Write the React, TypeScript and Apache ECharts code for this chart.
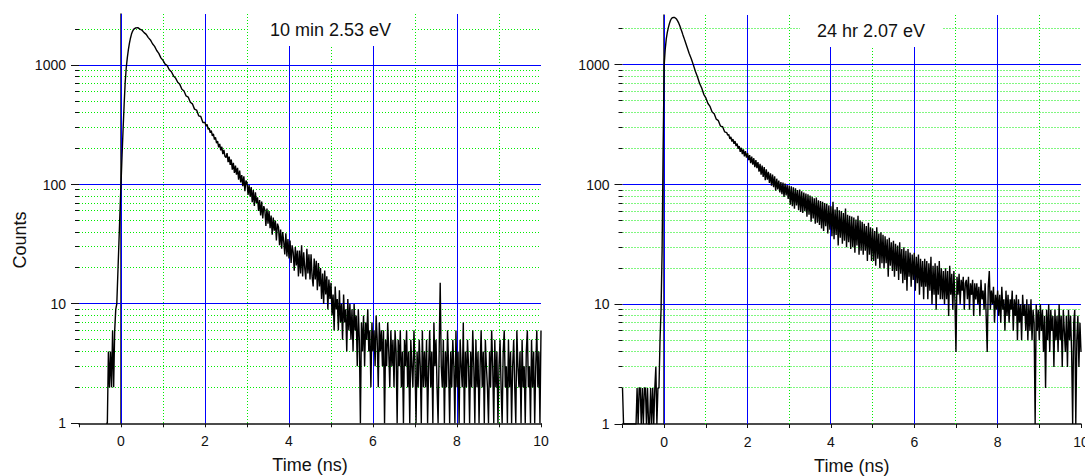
import React, { useEffect, useRef } from "react";
import * as echarts from "echarts";

// ---------------- data (counts per channel) ----------------
// Left panel: "10 min 2.53 eV"
const L_RISE = [
  1, 1, 4, 2, 4, 2, 6, 2, 6, 9, 10, 18, 32, 58, 100, 175, 290, 470, 720, 950,
  1150, 1340, 1520, 1680, 1820, 1920, 1990,
]; // -0.350 .. 0.300, every 0.025 ns
const L_PEAK = [2050, 2060, 2000, 1960, 1870, 1810, 1700, 1625, 1510, 1435, 1325, 1255, 1150, 1095, 1020]; // 0.35 .. 1.05, every 0.05 ns
const L_EARLY = [990, 915, 880, 812, 778, 718, 690, 628, 606, 552, 540, 489, 474, 428, 420, 376, 371, 331]; // 1.10 .. 1.95, every 0.05 ns
const L_TAIL = [
  331, 309, 318, 290, 296, 271, 283, 255, 266, 238,
  248, 222, 231, 205, 219, 193, 207, 180, 195, 172,
  168, 183, 154, 171, 146, 162, 133, 152, 125, 144,
  121, 138, 110, 131, 104, 120, 97, 117, 88, 108,
  104, 82, 99, 79, 95, 71, 90, 66, 86, 70,
  78, 60, 74, 55, 72, 52, 66, 61, 45, 63,
  47, 60, 43, 55, 38, 53, 41, 50, 34, 47,
  44, 31, 42, 29, 40, 33, 26, 39, 25, 35,
  24, 34, 22, 31, 27, 19, 30, 21, 28, 17,
  28, 18, 31, 17, 27, 20, 16, 29, 18, 26,
  16, 26, 17, 14, 24, 16, 23, 13, 22, 14,
  20, 11, 18, 10, 19, 12, 17, 9, 16, 11,
  15, 8, 12, 6, 14, 9, 11, 6, 13, 7,
  10, 5, 12, 7, 9, 4, 11, 6, 10, 5,
  9, 4, 10, 6, 8, 3, 9, 5, 1, 7,
  4, 8, 3, 7, 5, 9, 4, 6, 2, 7,
  4, 6, 3, 8, 5, 2, 7, 4, 6, 3,
  6, 1, 5, 3, 7, 4, 2, 6, 3, 5,
  2, 6, 4, 1, 5, 3, 6, 2, 4, 1,
  5, 3, 6, 2, 4, 1, 5, 3, 2, 6,
  3, 1, 4, 2, 5, 3, 1, 6, 2, 4,
  2, 5, 1, 3, 6, 2, 4, 1, 7, 3,
  5, 2, 1, 4, 15, 3, 2, 5, 1, 4,
  2, 6, 3, 1, 4, 2, 5, 3, 1, 6,
  2, 4, 1, 5, 3, 2, 7, 1, 4, 2,
  5, 3, 1, 4, 2, 6, 3, 1, 5, 2,
  4, 1, 3, 6, 2, 4, 1, 5, 3, 2,
  1, 4, 2, 6, 3, 1, 5, 2, 4, 1,
  3, 5, 2, 1, 4, 6, 2, 3, 1, 5,
  2, 4, 1, 3, 5, 2, 1, 6, 3, 2,
  4, 1, 5, 2, 3, 1, 4, 6, 2, 3,
  1, 5, 2, 4, 1, 3, 6, 2, 4, 1,
  6,
]; // 2.000 .. 10.000, every 0.025 ns

// Right panel: "24 hr 2.07 eV"
const R_PRE = [
  2, 1, 1, 1, 1, 1, 1, 1, 1, 1, 1, 1, 1, 1,
  2, 1, 2, 2, 1, 2, 1, 2, 2, 1, 2, 1, 1, 2, 1, 2, 1, 2, 3, 1, 2, 2, 5, 9, 28,
]; // -1.000 .. -0.050, every 0.025 ns
const R_RISE = [
  200, 1000, 1350, 1650, 1870, 2050, 2210, 2350, 2440, 2480, 2495, 2490, 2450, 2400, 2320, 2230, 2120,
  2000, 1890, 1780, 1680,
]; // -0.025 .. 0.475, every 0.025 ns
const R_EARLY = [1580, 1405, 1245, 1125, 1000, 880, 792, 698, 640, 568, 530, 476, 450, 404, 390, 352, 342, 308, 305, 276]; // 0.50 .. 1.45, every 0.05 ns
const R_TAIL = [
  272, 258, 262, 241, 250, 229, 240, 219, 231, 210,
  220, 199, 210, 188, 203, 180, 197, 172, 190, 168,
  183, 160, 176, 151, 171, 147, 166, 140, 160, 137,
  154, 128, 149, 121, 144, 116, 140, 109, 134, 110,
  128, 103, 124, 98, 121, 95, 117, 89, 112, 91,
  108, 86, 105, 83, 104, 79, 102, 81, 99, 76,
  98, 68, 97, 66, 95, 63, 93, 67, 90, 61,
  91, 59, 88, 58, 86, 60, 84, 54, 83, 56,
  81, 49, 79, 52, 77, 47, 78, 48, 74, 46,
  73, 43, 72, 41, 70, 45, 69, 39, 67, 42,
  66, 37, 72, 35, 62, 38, 65, 31, 61, 36,
  60, 32, 58, 34, 63, 30, 56, 33, 55, 29,
  54, 30, 53, 27, 51, 31, 55, 26, 50, 28,
  49, 26, 47, 28, 45, 23, 48, 26, 44, 23,
  43, 23, 41, 21, 44, 24, 39, 20, 40, 22,
  38, 20, 37, 22, 35, 17, 36, 21, 33, 19,
  34, 17, 32, 19, 31, 16, 33, 18, 29, 15,
  30, 16, 28, 13, 29, 17, 27, 14, 26, 16,
  27, 13, 25, 15, 26, 12, 24, 14, 23, 11,
  24, 14, 23, 11, 22, 13, 25, 10, 21, 12,
  22, 9, 21, 12, 23, 11, 20, 11, 19, 10,
  20, 11, 19, 8, 21, 12, 18, 9, 19, 11,
  4, 17, 12, 18, 10, 16, 13, 17, 9, 15,
  16, 11, 17, 9, 15, 12, 16, 8, 15, 11,
  15, 10, 14, 8, 16, 11, 13, 9, 15, 8,
  4, 14, 19, 9, 13, 10, 14, 7, 12, 9,
  13, 8, 12, 7, 14, 9, 11, 6, 13, 8,
  12, 7, 11, 9, 13, 6, 11, 8, 12, 5,
  11, 7, 10, 5, 12, 8, 10, 6, 11, 5,
  10, 6, 11, 5, 9, 7, 1, 10, 6, 9,
  5, 10, 6, 9, 4, 8, 2, 9, 5, 10,
  4, 9, 6, 8, 3, 9, 5, 8, 4, 10,
  5, 8, 3, 9, 6, 4, 8, 3, 9, 5,
  8, 4, 1, 7, 9, 1, 5, 8, 3, 7,
  4,
]; // 1.500 .. 10.000, every 0.025 ns

// sampling of each stretch: [first channel time (ns), channel width (ns), counts]
const LEFT_SEGMENTS: [number, number, number[]][] = [
  [-0.35, 0.025, L_RISE],
  [0.35, 0.05, L_PEAK],
  [1.1, 0.05, L_EARLY],
  [2.0, 0.025, L_TAIL],
];
const RIGHT_SEGMENTS: [number, number, number[]][] = [
  [-1.0, 0.025, R_PRE],
  [-0.025, 0.025, R_RISE],
  [0.5, 0.05, R_EARLY],
  [1.5, 0.025, R_TAIL],
];

const TITLES = ["10 min 2.53 eV", "24 hr 2.07 eV"];
const X_NAME = "Time (ns)";
const Y_NAME = "Counts";
const X_MIN = -1;
const X_MAX = 10;
const Y_MAXES = [2680, 2610];

const X_MAJOR_GRID = [0, 2, 4, 6, 8];
const X_MINOR_GRID = [1, 3, 5, 7, 9];
const Y_MAJOR_GRID = [10, 100, 1000];
const Y_MAJOR_TICKS = [1, 10, 100, 1000];
const Y_MINOR_TICKS = [2, 3, 4, 5, 6, 7, 8, 9, 20, 30, 40, 50, 60, 70, 80, 90, 200, 300, 400, 500, 600, 700, 800, 900, 2000];

// ---------------- styling ----------------
const FONT = "'Liberation Sans', Arial, sans-serif";
const INK = "#111";
const BLUE = "#0000ff";
const GREEN = "#00ee00";

const crisp = (v: number) => Math.round(v - 0.5) + 0.5;

const toPoints = (segs: [number, number, number[]][]) => {
  const pts: number[][] = [];
  segs.forEach(([start, step, counts]) => {
    counts.forEach((c, i) => pts.push([Number((start + i * step).toFixed(3)), c]));
  });
  return pts;
};

function tickSeries(idx: number, values: number[], len: number) {
  return {
    type: "custom",
    xAxisIndex: idx,
    yAxisIndex: idx,
    silent: true,
    clip: false,
    z: 5,
    encode: { x: 0, y: 1 },
    data: values.map((v) => [X_MIN, v]),
    renderItem: (_p: any, api: any) => {
      const pt = api.coord([api.value(0), api.value(1)]);
      const y = crisp(pt[1]);
      return {
        type: "line",
        shape: { x1: pt[0] - len, y1: y, x2: pt[0], y2: y },
        style: { stroke: INK, lineWidth: 1 },
      };
    },
  };
}

// grid lines drawn through the axes' own scales (vertical: x values, horizontal: y values)
function gridSeries(idx: number, values: number[], vertical: boolean, color: string, dotted: boolean, z: number) {
  return {
    type: "custom",
    xAxisIndex: idx,
    yAxisIndex: idx,
    silent: true,
    clip: false,
    z,
    encode: { x: 0, y: 1 },
    data: values.map((v) => (vertical ? [v, 1] : [X_MIN, v])),
    renderItem: (params: any, api: any) => {
      const cs = params.coordSys;
      const pt = api.coord([api.value(0), api.value(1)]);
      const shape = vertical
        ? { x1: crisp(pt[0]), y1: cs.y, x2: crisp(pt[0]), y2: cs.y + cs.height }
        : { x1: cs.x, y1: crisp(pt[1]), x2: cs.x + cs.width, y2: crisp(pt[1]) };
      return {
        type: "line",
        shape,
        style: { stroke: color, lineWidth: 1, lineDash: dotted ? [1, 2] : null, fill: null },
      };
    },
  };
}

export default function App() {
  const ref = useRef<HTMLDivElement>(null);

  useEffect(() => {
    document.body.style.margin = "0";
    if (!ref.current) return;
    const chart = echarts.init(ref.current, null, { renderer: "svg" });

    const panels = [LEFT_SEGMENTS, RIGHT_SEGMENTS];
    const titleStyle = { fontSize: 18, fontWeight: "normal", color: INK, fontFamily: FONT };

    const option: any = {
      animation: false,
      backgroundColor: "#fff",
      title: [
        { text: TITLES[0], left: 250, top: 14, padding: [7, 20], backgroundColor: "#fff", textStyle: titleStyle, z: 10 },
        { text: TITLES[1], left: 800, top: 15, padding: [7, 17], backgroundColor: "#fff", textStyle: titleStyle, z: 10 },
      ],
      grid: [
        { left: 79, top: 14, width: 462, height: 409.3, outerBoundsMode: "none", containLabel: false },
        { left: 622.5, top: 15, width: 458.5, height: 409, outerBoundsMode: "none", containLabel: false },
      ],
      xAxis: [0, 1].map((i) => ({
        type: "value",
        gridIndex: i,
        min: X_MIN,
        max: X_MAX,
        interval: 1,
        name: X_NAME,
        nameLocation: "middle",
        nameGap: 33,
        nameTextStyle: { fontSize: 18, color: INK, fontFamily: FONT },
        axisLine: { show: true, onZero: false, lineStyle: { color: INK, width: 1.5 } },
        axisTick: { show: true, length: 4, lineStyle: { color: INK, width: 1 } },
        axisLabel: {
          fontSize: 14,
          color: INK,
          fontFamily: FONT,
          margin: 11,
          formatter: (v: number) => {
            const r = Math.round(v);
            return r % 2 === 0 ? String(r) : "";
          },
        },
        splitLine: { show: false },
        minorSplitLine: { show: false },
      })),
      yAxis: [0, 1].map((i) => ({
        type: "log",
        logBase: 10,
        gridIndex: i,
        min: 1,
        max: Y_MAXES[i],
        axisLine: { show: true, lineStyle: { color: INK, width: 1.5 } },
        axisTick: { show: false },
        axisLabel: {
          fontSize: 14,
          color: INK,
          fontFamily: FONT,
          margin: 13,
          showMaxLabel: false,
          formatter: (v: number) => String(Math.round(v)),
        },
        splitLine: { show: false },
        minorSplitLine: { show: false },
      })),
      graphic: [
        {
          type: "text",
          x: 20,
          y: 240,
          rotation: Math.PI / 2,
          style: {
            text: Y_NAME,
            fontSize: 18,
            fontFamily: FONT,
            fill: INK,
            align: "center",
            verticalAlign: "middle",
          },
        },
      ],
      series: [
        ...[0, 1].flatMap((i) => [
          gridSeries(i, X_MINOR_GRID, true, GREEN, true, 1),
          gridSeries(i, Y_MINOR_TICKS, false, GREEN, true, 1),
          gridSeries(i, X_MAJOR_GRID, true, BLUE, false, 2),
          gridSeries(i, Y_MAJOR_GRID, false, BLUE, false, 2),
        ]),
        ...panels.map((segs, i) => ({
          type: "line",
          xAxisIndex: i,
          yAxisIndex: i,
          data: toPoints(segs),
          showSymbol: false,
          symbol: "none",
          z: 3,
          lineStyle: { color: "#000", width: 1.4 },
        })),
        tickSeries(0, Y_MAJOR_TICKS, 8),
        tickSeries(0, Y_MINOR_TICKS, 4),
        tickSeries(1, Y_MAJOR_TICKS, 8),
        tickSeries(1, Y_MINOR_TICKS, 4),
      ],
    };

    chart.setOption(option);
    return () => chart.dispose();
  }, []);

  return <div ref={ref} style={{ width: 1085, height: 476 }} />;
}
